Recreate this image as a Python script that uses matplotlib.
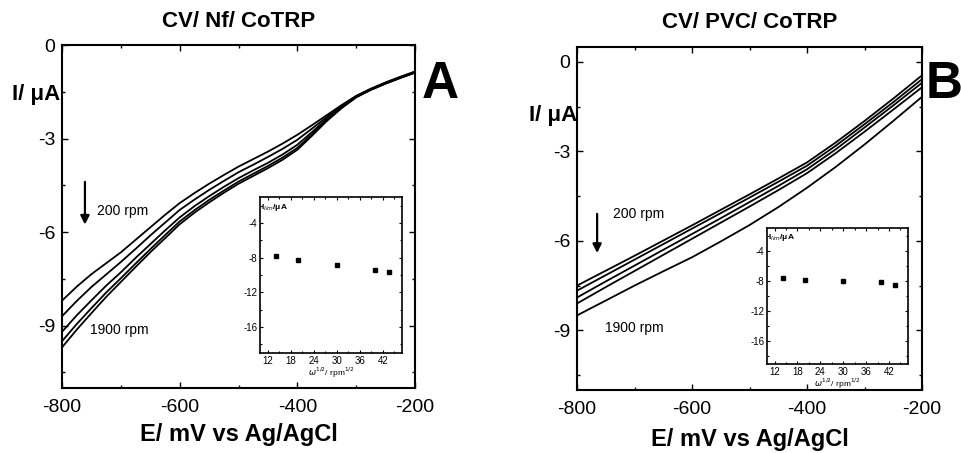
import matplotlib
matplotlib.use("Agg")
import matplotlib.pyplot as plt
from matplotlib.ticker import MultipleLocator

plt.rcParams['font.family'] = ['Liberation Sans', 'DejaVu Sans']
plt.rcParams['axes.unicode_minus'] = False

# Panel A: Nafion film, currents (uA) at 200 ... 1900 rpm, 25 mV grid
potential_nf = [-800, -775, -750, -725, -700, -675, -650, -625, -600, -575, -550, -525,
                -500, -475, -450, -425, -400, -375, -350, -325, -300, -275, -250, -225, -200]
nf_200 = [-8.2, -7.75, -7.35, -7.0, -6.65, -6.25, -5.85, -5.45, -5.07, -4.75, -4.45, -4.17,
          -3.9, -3.66, -3.42, -3.16, -2.88, -2.57, -2.25, -1.93, -1.63, -1.4, -1.2, -1.02, -0.85]
nf_400 = [-8.7, -8.21, -7.76, -7.36, -6.96, -6.54, -6.11, -5.7, -5.29, -4.96, -4.65, -4.36,
          -4.08, -3.84, -3.59, -3.33, -3.04, -2.68, -2.31, -1.96, -1.65, -1.41, -1.21, -1.03, -0.86]
nf_900 = [-9.2, -8.67, -8.19, -7.72, -7.29, -6.83, -6.39, -5.95, -5.53, -5.17, -4.85, -4.55,
          -4.27, -4.02, -3.78, -3.51, -3.2, -2.79, -2.37, -1.99, -1.66, -1.43, -1.23, -1.05, -0.88]
nf_1600 = [-9.5, -8.95, -8.44, -7.94, -7.48, -7.01, -6.55, -6.1, -5.66, -5.3, -4.97, -4.67,
           -4.38, -4.13, -3.88, -3.61, -3.3, -2.86, -2.41, -2.01, -1.67, -1.43, -1.23, -1.05, -0.88]
nf_1900 = [-9.7, -9.13, -8.6, -8.08, -7.6, -7.12, -6.65, -6.2, -5.75, -5.38, -5.05, -4.74,
           -4.45, -4.2, -3.95, -3.68, -3.36, -2.91, -2.44, -2.03, -1.68, -1.44, -1.24, -1.06, -0.89]

# Panel B: PVC film, 50 mV grid
potential_pvc = [-800, -750, -700, -650, -600, -550, -500, -450, -400, -350, -300, -250, -200]
pvc_200 = [-7.5, -7.0, -6.5, -5.99, -5.48, -4.96, -4.44, -3.91, -3.37, -2.7, -1.98, -1.23, -0.45]
pvc_400 = [-7.67, -7.15, -6.63, -6.11, -5.59, -5.07, -4.55, -4.02, -3.48, -2.81, -2.09, -1.35, -0.58]
pvc_900 = [-7.9, -7.36, -6.83, -6.3, -5.77, -5.24, -4.7, -4.16, -3.6, -2.93, -2.2, -1.46, -0.7]
pvc_1600 = [-8.1, -7.55, -7.01, -6.47, -5.93, -5.39, -4.85, -4.3, -3.73, -3.06, -2.34, -1.6, -0.85]
pvc_1900 = [-8.5, -8.0, -7.5, -7.02, -6.55, -6.02, -5.47, -4.87, -4.22, -3.52, -2.77, -1.98, -1.17]

# Insets: limiting current vs square root of rotation rate
sqrt_rate = [14.1, 20.0, 30.0, 40.0, 43.6]
ilim_nf = [-7.8, -8.3, -8.9, -9.4, -9.6]
ilim_pvc = [-7.6, -7.85, -8.0, -8.2, -8.6]

main_xticks = [-800, -600, -400, -200]
main_yticks = [0, -3, -6, -9]
inset_xticks = [12, 18, 24, 30, 36, 42]
inset_yticks = [-4, -8, -12, -16]

W, H = 961, 453
fig = plt.figure(figsize=(W / 100, H / 100), dpi=100)


def frac(left, top, right, bottom):
    return [left / W, (H - bottom) / H, (right - left) / W, (bottom - top) / H]


def style_main(ax, ylim, xlabelpad):
    ax.set_xlim(-800, -200)
    ax.set_ylim(*ylim)
    ax.set_xticks(main_xticks)
    ax.set_yticks(main_yticks)
    ax.xaxis.set_minor_locator(MultipleLocator(100))
    ax.yaxis.set_minor_locator(MultipleLocator(1.5))
    ax.tick_params(which='both', direction='in', top=True, right=True,
                   width=1.0, labelsize=14)
    ax.tick_params(which='major', length=4)
    ax.tick_params(which='minor', length=2.5)
    ax.tick_params(axis='x', pad=8)
    ax.tick_params(axis='y', pad=5)
    for s in ax.spines.values():
        s.set_linewidth(1.5)
    ax.set_xlabel('E/ mV vs Ag/AgCl', fontsize=17, fontweight='bold',
                  labelpad=xlabelpad)


def style_inset(ax):
    ax.set_xlim(10, 47)
    ax.set_ylim(-19, -1)
    ax.set_xticks(inset_xticks)
    ax.set_yticks(inset_yticks)
    ax.xaxis.set_minor_locator(MultipleLocator(3))
    ax.yaxis.set_minor_locator(MultipleLocator(2))
    ax.tick_params(which='both', direction='in', top=True, right=True,
                   width=0.8, labelsize=7, pad=2)
    ax.tick_params(which='major', length=2.5)
    ax.tick_params(which='minor', length=1.5)
    for s in ax.spines.values():
        s.set_linewidth(1.2)
    ax.set_xlabel(r'$\omega^{1/2}$/ rpm$^{1/2}$', fontsize=6, labelpad=0)
    ax.text(0.01, 0.97, 'I$_{lim}$/μA', transform=ax.transAxes,
            fontsize=6, fontweight='bold', ha='left', va='top')


# ---- Panel A ----
axA = fig.add_axes(frac(62, 45, 415, 388))
for cur in (nf_200, nf_400, nf_900, nf_1600, nf_1900):
    axA.plot(potential_nf, cur, color='black', lw=1.3)
style_main(axA, (-11, 0), 5)
axA.set_title('CV/ Nf/ CoTRP', fontsize=16, fontweight='bold', pad=13)
axA.text(-0.005, 0.855, 'I/ μA', transform=axA.transAxes, fontsize=16,
         fontweight='bold', ha='right', va='center')
axA.annotate('', xy=(-761, -5.85), xytext=(-761, -4.3),
             arrowprops=dict(arrowstyle='-|>', color='black', lw=1.6,
                             mutation_scale=13))
axA.text(-740, -5.33, '200 rpm', fontsize=10, ha='left', va='center')
axA.text(-752, -9.14, '1900 rpm', fontsize=10, ha='left', va='center')
fig.text(440 / W, 1 - 84 / H, 'A', fontsize=37, fontweight='bold',
         ha='center', va='center')

inA = fig.add_axes(frac(260, 197, 402, 353))
inA.plot(sqrt_rate, ilim_nf, 's', color='black', ms=3.5)
style_inset(inA)

# ---- Panel B ----
axB = fig.add_axes(frac(577, 47, 922, 390))
for cur in (pvc_200, pvc_400, pvc_900, pvc_1600, pvc_1900):
    axB.plot(potential_pvc, cur, color='black', lw=1.3)
style_main(axB, (-11, 0.5), 7)
axB.set_title('CV/ PVC/ CoTRP', fontsize=16, fontweight='bold', pad=14)
axB.text(0.0, 0.80, 'I/ μA', transform=axB.transAxes, fontsize=16,
         fontweight='bold', ha='right', va='center')
axB.annotate('', xy=(-765, -6.5), xytext=(-765, -5.0),
             arrowprops=dict(arrowstyle='-|>', color='black', lw=1.6,
                             mutation_scale=13))
axB.text(-737, -5.1, '200 rpm', fontsize=10, ha='left', va='center')
axB.text(-751, -8.93, '1900 rpm', fontsize=10, ha='left', va='center')
fig.text(944 / W, 1 - 85 / H, 'B', fontsize=37, fontweight='bold',
         ha='center', va='center')

inB = fig.add_axes(frac(767, 228, 908, 364))
inB.plot(sqrt_rate, ilim_pvc, 's', color='black', ms=3.5)
style_inset(inB)

fig.savefig('out.png', dpi=100)
